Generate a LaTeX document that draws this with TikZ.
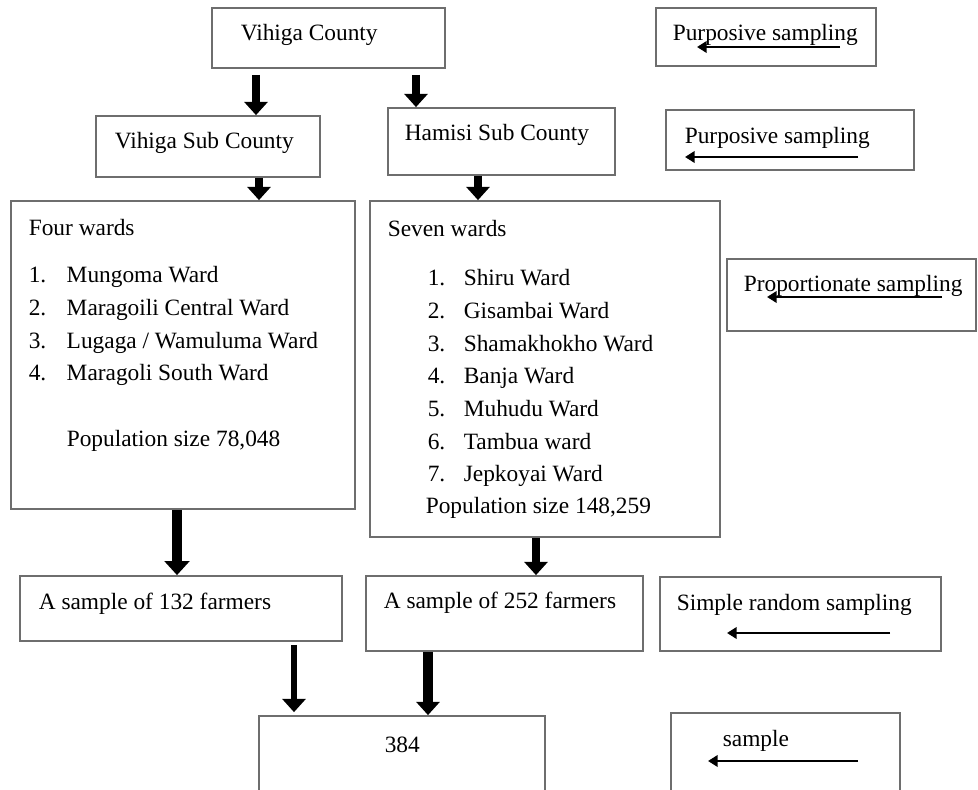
\documentclass[tikz,border=0pt]{standalone}
\usepackage{fontspec}
\setmainfont{Liberation Serif}
\usetikzlibrary{arrows.meta, positioning, fit, calc}
\definecolor{cframe}{HTML}{6E6E6E}
\tikzset{
  every picture/.style={line width=0.9pt},
  box/.style={draw=cframe, inner sep=0pt, line width=1pt},
  txt/.style={font=\fontsize{13.3}{18.6}\selectfont, inner sep=0pt, anchor=west},
  lst/.style={txt, anchor=base west, align=left},
  bigarrow/.style={-{Triangle[length=7.5pt, width=13pt]}, line width=5pt},
  slimarrow/.style={-{Triangle[length=5.5pt, width=6.5pt]}, line width=1.3pt},
}
\newcommand{\wnum}[2][21.6pt]{\makebox[#1][l]{#2}}

\begin{document}
\begin{tikzpicture}[x=0.02cm, y=-0.02cm]
  \clip (0,0) rectangle (978,790);
  % county level
  \node[box, fit={(212,8) (445,68)}] (vc) {};
  \node[txt] (vctext) at (240,35) {Vihiga County};
  \node[box, fit={(656,8) (876,66)}] (ps1) {};
  \node[txt] (ps1text) at (672,35) {Purposive sampling};
  % sub counties
  \node[box, fit={(96,116) (320,177)}] (vsc) {};
  \node[txt] (vsctext) at (114,143) {Vihiga Sub County};
  \node[box, fit={(388,108) (615,175)}] (hsc) {};
  \node[txt] (hsctext) at (404,135) {Hamisi Sub County};
  \node[box, fit={(666,110) (914,170)}] (ps2) {};
  \node[txt] (ps2text) at (684,138) {Purposive sampling};
  % wards (lists are placed by the baseline of their last line)
  \node[box, fit={(11,201) (355,509)}] (fw) {};
  \node[txt] (fwhead) at (28,228) {Four wards};
  \node[lst] (fwlist) at (28,381) {\wnum{1.}Mungoma Ward\\ \wnum{2.}Maragoili Central Ward\\
    \wnum{3.}Lugaga / Wamuluma Ward\\ \wnum{4.}Maragoli South Ward};
  \node[lst] (fwpop) at (66,447) {Population size 78,048};
  \node[box, fit={(370,201) (720,537)}] (sw) {};
  \node[txt] (swhead) at (387,229) {Seven wards};
  \node[lst] (swlist) at (427,482) {\wnum[20.5pt]{1.}Shiru Ward\\ \wnum[20.5pt]{2.}Gisambai Ward\\
    \wnum[20.5pt]{3.}Shamakhokho Ward\\ \wnum[20.5pt]{4.}Banja Ward\\ \wnum[20.5pt]{5.}Muhudu Ward\\
    \wnum[20.5pt]{6.}Tambua ward\\ \wnum[20.5pt]{7.}Jepkoyai Ward};
  \node[lst] (swpop) at (425,514) {Population size 148,259};
  \node[box, fit={(727,259) (976,331)}] (pp) {};
  \node[txt] (pptext) at (743,286) {Proportionate sampling};
  % samples
  \node[box, fit={(20,576) (342,641)}] (s132) {};
  \node[txt] (s132text) at (38,604) {A sample of 132 farmers};
  \node[box, fit={(366,576) (643,651)}] (s252) {};
  \node[txt] (s252text) at (383,603) {A sample of 252 farmers};
  \node[box, fit={(660,577) (941,651)}] (srs) {};
  \node[txt] (srstext) at (676,605) {Simple random sampling};
  % total
  \node[box, fit={(259,716) (545,800)}] (tot) {};
  \node[txt] (tottext) at (384,745) {384};
  \node[box, fit={(671,713) (900,800)}] (smp) {};
  \node[txt] (smptext) at (722,741) {sample};

  % flow arrows
  \draw[bigarrow, shorten <=3.4pt] (vc.south -| 256,0) -- (vsc.north -| 256,0);
  \draw[bigarrow, shorten <=3.4pt] (vc.south -| 416,0) -- (hsc.north -| 416,0);
  \draw[bigarrow] (vsc.south -| 259,0) -- (fw.north -| 259,0);
  \draw[bigarrow] (hsc.south -| 478,0) -- (sw.north -| 478,0);
  \draw[bigarrow, line width=6.2pt, -{Triangle[length=8pt, width=14pt]}] (fw.south -| 177,0) -- (s132.north -| 177,0);
  \draw[bigarrow] (sw.south -| 536,0) -- (s252.north -| 536,0);
  \draw[bigarrow, line width=3.8pt, shorten <=1.7pt, shorten >=1.7pt] (s132.south -| 294,0) -- (tot.north -| 294,0);
  \draw[bigarrow, line width=5.4pt] (s252.south -| 428,0) -- (tot.north -| 428,0);

  % method arrows
  \coordinate (ps1r) at (840,47);
  \coordinate (ps1l) at (697,47);
  \coordinate (ps2r) at (858,157);
  \coordinate (ps2l) at (685,157);
  \coordinate (ppr) at (942,297);
  \coordinate (ppl) at (767,297);
  \coordinate (srsr) at (890,633);
  \coordinate (srsl) at (727,633);
  \coordinate (smpr) at (858,761);
  \coordinate (smpl) at (708,761);
  \draw[slimarrow] (ps1r) -- (ps1l);
  \draw[slimarrow] (ps2r) -- (ps2l);
  \draw[slimarrow] (ppr) -- (ppl);
  \draw[slimarrow] (srsr) -- (srsl);
  \draw[slimarrow] (smpr) -- (smpl);
\end{tikzpicture}
\end{document}
